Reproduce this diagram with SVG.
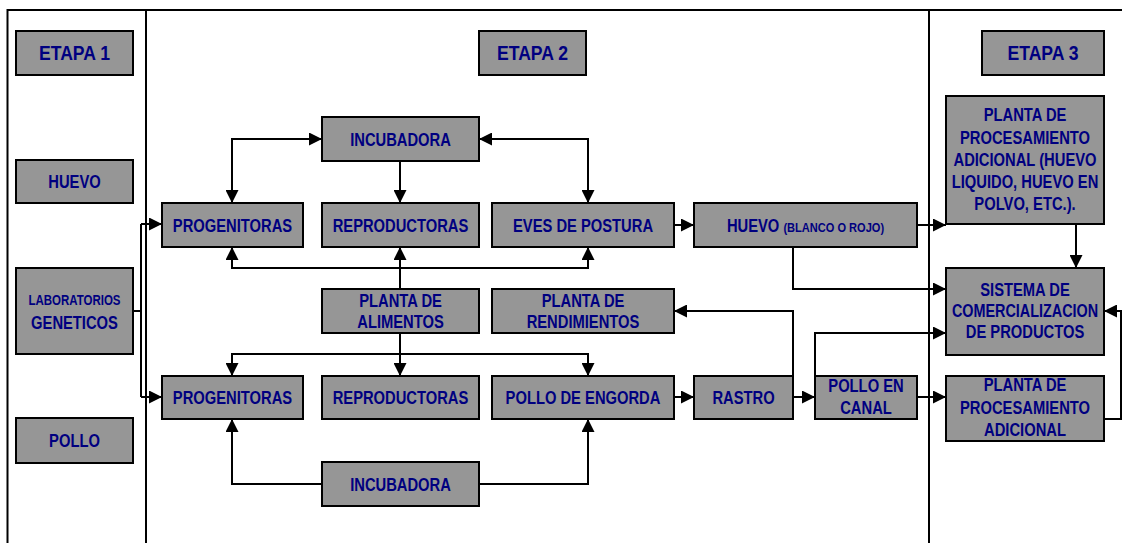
<svg xmlns="http://www.w3.org/2000/svg" width="1122" height="543" viewBox="0 0 1122 543">
<style>
.frame{stroke:#000;stroke-width:2;fill:none}
.box{fill:#969696;stroke:#000;stroke-width:2}
.t{font-family:"Liberation Sans",Arial,sans-serif;font-weight:bold;font-size:18px;fill:#000080;text-anchor:middle}
.big{font-size:20px}
.sm{font-size:14px}
.xs{font-size:13.5px}
.c path{stroke:#000;stroke-width:2;fill:none}
.a{marker-end:url(#ah)}
.aa{marker-end:url(#ah);marker-start:url(#ah)}
</style>
<defs>
<marker id="ah" markerUnits="userSpaceOnUse" markerWidth="13" markerHeight="13" viewBox="0 0 13 13" refX="13" refY="6.5" orient="auto-start-reverse">
<path d="M0,0 L13,6.5 L0,13 z" fill="#000"/>
</marker>
</defs>
<rect width="1122" height="543" fill="#fff"/>
<g id="frame">
<path class="frame" d="M7.5,543 V10 H1122 M146,10 V543 M929,10 V543"/>
</g>
<g id="connectors" class="c">
<path class="aa" d="M232,203 V139 H322"/>
<path class="aa" d="M479,139 H588 V203"/>
<path class="a" d="M400,161 V203"/>
<path class="aa" d="M232,247 V268 H588 V247"/>
<path class="a" d="M400,289 V247"/>
<path class="aa" d="M232,376 V354 H588 V376"/>
<path class="a" d="M400,333 V376"/>
<path class="a" d="M322,484 H232 V419"/>
<path class="a" d="M479,484 H588 V419"/>
<path d="M133,311 H141 M141,224 V397"/>
<path class="a" d="M141,224 H162"/>
<path class="a" d="M141,397 H162"/>
<path class="a" d="M674,225 H694"/>
<path class="a" d="M917,225 H946"/>
<path class="a" d="M1076,224 V268"/>
<path class="a" d="M793,247 V289 H946"/>
<path class="a" d="M793,376 V311 H674"/>
<path class="a" d="M674,397 H694"/>
<path class="a" d="M793,397 H815"/>
<path class="a" d="M815,376 V333 H946"/>
<path class="a" d="M917,397 H946"/>
<path class="a" d="M1104,419 H1121 V311 H1104"/>
</g>
<g id="etapa1"><rect class="box" x="16" y="31" width="117" height="44"/><text class="t big" transform="translate(74.5,60) scale(0.88,1)">ETAPA 1</text></g>
<g id="etapa2"><rect class="box" x="479" y="31" width="107" height="44"/><text class="t big" transform="translate(532.5,60) scale(0.88,1)">ETAPA 2</text></g>
<g id="etapa3"><rect class="box" x="982" y="31" width="122" height="44"/><text class="t big" transform="translate(1043,60) scale(0.88,1)">ETAPA 3</text></g>
<g id="huevo1"><rect class="box" x="16" y="160" width="117" height="43"/><text class="t" transform="translate(74.5,188) scale(0.82,1)">HUEVO</text></g>
<g id="laboratorios"><rect class="box" x="16" y="268" width="117" height="86"/><text class="t sm" transform="translate(74.5,305) scale(0.82,1)">LABORATORIOS</text><text class="t" transform="translate(74.5,328.5) scale(0.82,1)">GENETICOS</text></g>
<g id="pollo1"><rect class="box" x="16" y="418" width="117" height="45"/><text class="t" transform="translate(74.5,447) scale(0.82,1)">POLLO</text></g>
<g id="incubadora1"><rect class="box" x="322" y="117" width="157" height="44"/><text class="t" transform="translate(400.5,145.5) scale(0.82,1)">INCUBADORA</text></g>
<g id="progenitoras1"><rect class="box" x="162" y="203" width="141" height="44"/><text class="t" transform="translate(232.5,231.5) scale(0.82,1)">PROGENITORAS</text></g>
<g id="reproductoras1"><rect class="box" x="322" y="203" width="157" height="44"/><text class="t" transform="translate(400.5,231.5) scale(0.82,1)">REPRODUCTORAS</text></g>
<g id="eves"><rect class="box" x="492" y="203" width="182" height="44"/><text class="t" transform="translate(583,231.5) scale(0.82,1)">EVES DE POSTURA</text></g>
<g id="huevo2"><rect class="box" x="694" y="203" width="223" height="44"/><text class="t" transform="translate(805.5,231.5) scale(0.82,1)">HUEVO <tspan class="xs">(BLANCO O ROJO)</tspan></text></g>
<g id="planta-proc1"><rect class="box" x="946" y="96" width="158" height="128"/>
<text class="t" transform="translate(1025,121.3) scale(0.82,1)">PLANTA DE</text>
<text class="t" transform="translate(1025,144) scale(0.82,1)">PROCESAMIENTO</text>
<text class="t" transform="translate(1025,166.3) scale(0.82,1)">ADICIONAL (HUEVO</text>
<text class="t" transform="translate(1025,188) scale(0.82,1)">LIQUIDO, HUEVO EN</text>
<text class="t" transform="translate(1025,210.3) scale(0.82,1)">POLVO, ETC.).</text></g>
<g id="sistema"><rect class="box" x="946" y="268" width="158" height="87"/>
<text class="t" transform="translate(1025,295.6) scale(0.82,1)">SISTEMA DE</text>
<text class="t" transform="translate(1025,317) scale(0.8,1)">COMERCIALIZACION</text>
<text class="t" transform="translate(1025,338) scale(0.82,1)">DE PRODUCTOS</text></g>
<g id="alimentos"><rect class="box" x="322" y="289" width="157" height="44"/>
<text class="t" transform="translate(400.5,307) scale(0.82,1)">PLANTA DE</text>
<text class="t" transform="translate(400.5,328) scale(0.82,1)">ALIMENTOS</text></g>
<g id="rendimientos"><rect class="box" x="492" y="289" width="182" height="44"/>
<text class="t" transform="translate(583,307) scale(0.82,1)">PLANTA DE</text>
<text class="t" transform="translate(583,328) scale(0.82,1)">RENDIMIENTOS</text></g>
<g id="progenitoras2"><rect class="box" x="162" y="376" width="141" height="43"/><text class="t" transform="translate(232.5,404) scale(0.82,1)">PROGENITORAS</text></g>
<g id="reproductoras2"><rect class="box" x="322" y="376" width="157" height="43"/><text class="t" transform="translate(400.5,404) scale(0.82,1)">REPRODUCTORAS</text></g>
<g id="engorda"><rect class="box" x="492" y="376" width="182" height="43"/><text class="t" transform="translate(583,404) scale(0.82,1)">POLLO DE ENGORDA</text></g>
<g id="rastro"><rect class="box" x="694" y="376" width="99" height="43"/><text class="t" transform="translate(743.5,404) scale(0.82,1)">RASTRO</text></g>
<g id="canal"><rect class="box" x="815" y="376" width="102" height="43"/>
<text class="t" transform="translate(866,392.3) scale(0.82,1)">POLLO EN</text>
<text class="t" transform="translate(866,414) scale(0.82,1)">CANAL</text></g>
<g id="planta-proc2"><rect class="box" x="946" y="376" width="158" height="65"/>
<text class="t" transform="translate(1025,391.3) scale(0.82,1)">PLANTA DE</text>
<text class="t" transform="translate(1025,414) scale(0.82,1)">PROCESAMIENTO</text>
<text class="t" transform="translate(1025,436.3) scale(0.82,1)">ADICIONAL</text></g>
<g id="incubadora2"><rect class="box" x="322" y="462" width="157" height="44"/><text class="t" transform="translate(400.5,490.5) scale(0.82,1)">INCUBADORA</text></g>
</svg>
